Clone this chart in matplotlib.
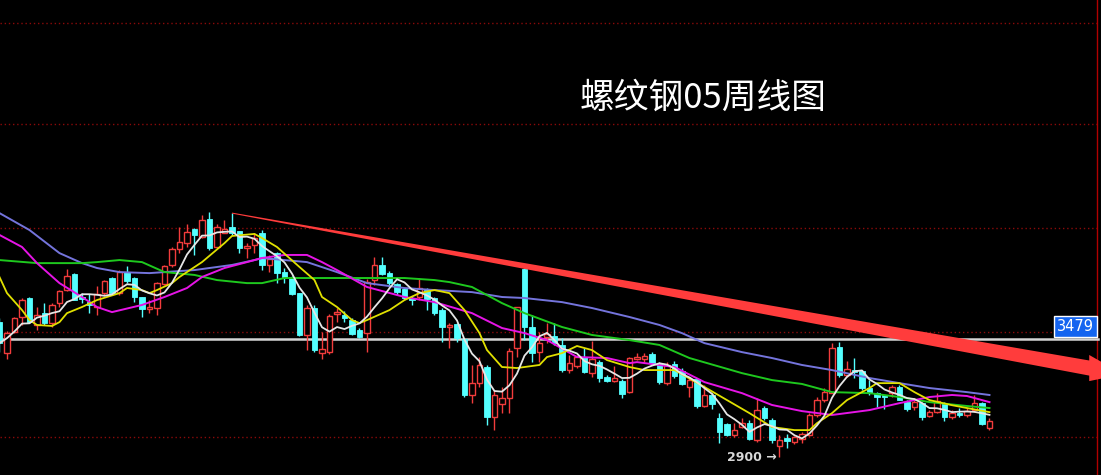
import matplotlib
matplotlib.use("Agg")
import matplotlib.pyplot as plt
import numpy as np
import pandas as pd
from matplotlib.patches import Polygon

plt.rcParams['font.family'] = ['Noto Sans CJK SC', 'DejaVu Sans']

title = "螺纹钢05周线图"

# weekly candles
opens = [3562, 3410, 3513, 3587, 3680, 3548, 3606, 3557, 3655, 3719, 3798,
         3685, 3660, 3636, 3704, 3778, 3704, 3807, 3778, 3685, 3626, 3631,
         3749, 3842, 3920, 3949, 4018, 3979, 4067, 3930, 3998, 4028, 4008,
         3925, 3940, 3998, 3842, 3900, 3807, 3783, 3704, 3499, 3631, 3410,
         3415, 3602, 3597, 3572, 3523, 3508, 3768, 3842, 3802, 3749, 3724,
         3680, 3685, 3719, 3680, 3621, 3538, 3553, 3479, 3205, 3263, 3342,
         3097, 3161, 3190, 3435, 3822, 3538, 3415, 3489, 3494, 3450, 3327,
         3347, 3391, 3312, 3366, 3293, 3273, 3273, 3219, 3381, 3381, 3406,
         3361, 3263, 3357, 3322, 3244, 3283, 3151, 3205, 3092, 3063, 3009,
         3048, 3067, 2984, 3141, 3082, 2955, 2994, 2974, 2989, 3009, 3107,
         3180, 3214, 3440, 3303, 3327, 3322, 3239, 3214, 3205, 3214, 3244,
         3170, 3146, 3165, 3102, 3121, 3165, 3097, 3116, 3107, 3131, 3165, 3043]
highs = [3582, 3518, 3587, 3680, 3685, 3636, 3655, 3655, 3719, 3822, 3802,
         3704, 3700, 3739, 3768, 3783, 3817, 3837, 3783, 3685, 3670, 3758,
         3842, 3930, 4028, 4043, 4023, 4087, 4101, 4043, 4062, 4096, 4008,
         3949, 3998, 4013, 3891, 3905, 3827, 3788, 3704, 3646, 3646, 3513,
         3602, 3631, 3616, 3582, 3533, 3773, 3881, 3881, 3812, 3753, 3729,
         3690, 3778, 3729, 3685, 3631, 3557, 3557, 3484, 3352, 3391, 3352,
         3229, 3244, 3435, 3636, 3827, 3597, 3513, 3557, 3557, 3484, 3401,
         3401, 3435, 3469, 3376, 3303, 3347, 3283, 3391, 3410, 3410, 3415,
         3366, 3366, 3371, 3337, 3293, 3288, 3254, 3214, 3116, 3067, 3067,
         3092, 3082, 3190, 3151, 3092, 3009, 3014, 3004, 3023, 3116, 3195,
         3239, 3459, 3464, 3371, 3386, 3327, 3278, 3219, 3205, 3254, 3254,
         3180, 3190, 3170, 3131, 3214, 3170, 3131, 3141, 3141, 3205, 3170, 3092]
lows = [3415, 3381, 3508, 3548, 3557, 3523, 3548, 3538, 3636, 3714, 3670,
        3655, 3606, 3597, 3695, 3695, 3695, 3753, 3660, 3587, 3606, 3597,
        3744, 3832, 3900, 3930, 3891, 3974, 3915, 3925, 3998, 3989, 3900,
        3876, 3900, 3817, 3807, 3753, 3753, 3695, 3494, 3425, 3415, 3381,
        3406, 3562, 3562, 3499, 3484, 3415, 3744, 3793, 3734, 3695, 3670,
        3646, 3670, 3621, 3597, 3464, 3435, 3464, 3195, 3165, 3244, 3058,
        3033, 3116, 3116, 3391, 3474, 3366, 3366, 3459, 3450, 3317, 3312,
        3337, 3312, 3293, 3268, 3268, 3268, 3190, 3214, 3376, 3366, 3357,
        3259, 3254, 3288, 3254, 3195, 3141, 3146, 3136, 2969, 3004, 2999,
        3043, 2984, 2974, 3082, 2969, 2900, 2945, 2965, 2969, 3004, 3097,
        3170, 3214, 3293, 3293, 3288, 3229, 3205, 3146, 3136, 3195, 3180,
        3126, 3131, 3082, 3097, 3116, 3077, 3087, 3097, 3097, 3121, 3058, 3033]
closes = [3459, 3508, 3582, 3670, 3562, 3597, 3557, 3646, 3714, 3788, 3670,
          3675, 3646, 3700, 3763, 3704, 3807, 3763, 3685, 3626, 3636, 3753,
          3837, 3920, 3954, 4003, 3989, 4062, 3925, 4028, 4018, 3998, 3925,
          3935, 3974, 3842, 3871, 3802, 3783, 3700, 3499, 3631, 3425, 3430,
          3592, 3611, 3582, 3504, 3489, 3758, 3842, 3798, 3753, 3709, 3680,
          3670, 3729, 3675, 3606, 3538, 3548, 3484, 3205, 3263, 3352, 3097,
          3205, 3190, 3420, 3636, 3538, 3410, 3459, 3504, 3459, 3327, 3361,
          3391, 3317, 3381, 3288, 3273, 3288, 3210, 3386, 3391, 3396, 3361,
          3268, 3352, 3298, 3259, 3278, 3151, 3205, 3161, 3023, 3009, 3033,
          3067, 2989, 3131, 3092, 2984, 2984, 2979, 2999, 3014, 3107, 3180,
          3219, 3435, 3303, 3332, 3317, 3239, 3214, 3195, 3195, 3244, 3180,
          3136, 3170, 3097, 3121, 3175, 3097, 3116, 3107, 3126, 3165, 3063, 3077]

# moving averages read at sample weeks (week index, price)
ma10_w = [0, 1, 3, 4, 5, 7, 8, 9, 11, 13, 16, 17, 19, 20, 21, 23, 24, 27, 30, 31,
          34, 35, 37, 40, 42, 43, 45, 47, 48, 49, 52, 54, 56, 58, 60, 62, 64, 65,
          67, 69, 72, 73, 75, 77, 79, 81, 84, 86, 90, 94, 97, 100, 103, 106, 108,
          109, 111, 113, 116, 117, 120, 122, 124, 127, 129, 132]
ma10_v = [3783, 3704, 3621, 3572, 3548, 3543, 3562, 3606, 3636, 3670, 3704, 3729,
          3719, 3704, 3719, 3753, 3783, 3856, 3949, 3984, 3994, 3974, 3930, 3832,
          3768, 3685, 3636, 3572, 3557, 3572, 3621, 3670, 3704, 3719, 3704, 3621,
          3508, 3425, 3342, 3337, 3352, 3391, 3410, 3445, 3425, 3376, 3342, 3327,
          3327, 3244, 3180, 3116, 3048, 3033, 3033, 3067, 3116, 3180, 3239, 3263,
          3263, 3219, 3180, 3155, 3141, 3121]
ma20_w = [0, 3, 5, 8, 11, 13, 15, 19, 22, 25, 27, 30, 33, 35, 38, 41, 43, 45, 49,
          54, 58, 63, 67, 70, 73, 77, 81, 84, 85, 90, 94, 99, 103, 107, 111, 116,
          120, 124, 127, 129, 132]
ma20_v = [3989, 3930, 3851, 3753, 3685, 3636, 3611, 3646, 3685, 3729, 3783, 3827,
          3856, 3876, 3891, 3891, 3856, 3817, 3734, 3685, 3660, 3606, 3533, 3508,
          3474, 3391, 3386, 3361, 3366, 3342, 3268, 3214, 3156, 3126, 3107, 3131,
          3165, 3195, 3205, 3200, 3170]
ma40_w = [0, 5, 11, 13, 16, 19, 22, 26, 29, 33, 35, 38, 45, 54, 58, 60, 63, 67,
          70, 75, 79, 84, 88, 92, 99, 103, 107, 111, 116, 120, 124, 129, 132]
ma40_v = [3866, 3851, 3851, 3856, 3866, 3856, 3807, 3793, 3768, 3753, 3753, 3778,
          3778, 3778, 3768, 3758, 3734, 3655, 3606, 3538, 3499, 3474, 3450, 3386,
          3312, 3278, 3259, 3219, 3214, 3195, 3170, 3151, 3141]
ma60_w = [0, 4, 8, 11, 13, 16, 20, 22, 26, 31, 34, 35, 38, 41, 45, 49, 54, 58, 63,
          67, 70, 75, 79, 84, 88, 91, 94, 99, 103, 107, 111, 116, 120, 124, 129, 132]
ma60_v = [4096, 4013, 3900, 3851, 3827, 3807, 3802, 3807, 3817, 3842, 3866, 3876,
          3866, 3856, 3807, 3753, 3729, 3719, 3709, 3685, 3680, 3660, 3631, 3587,
          3548, 3508, 3459, 3415, 3386, 3352, 3327, 3288, 3263, 3239, 3219, 3205]

last_price = 3479
low_week = 104
low_price = 2900
grid_levels = [3000, 3512, 4021, 4531, 5029]
trend_start = (31, 4096)
trend_end = (145.3, 3337)

weeks = np.arange(len(closes))
o = np.array(opens, float)
c = np.array(closes, float)
h = np.array(highs, float)
l = np.array(lows, float)
ma5 = pd.Series(c).rolling(5, min_periods=1).mean()

RED = '#f23c3c'
CYAN = '#54ffff'

fig = plt.figure(figsize=(11.01, 4.75), dpi=100, facecolor='black')
ax = fig.add_axes([0, 0, 1, 1], facecolor='black')
ax.set_xlim(0.067, 146.87)
ax.set_ylim(2813, 5140)
ax.axis('off')

right = 1098 / 1101
for g in grid_levels:
    ax.axhline(g, xmax=right, color='#8a0a0a', lw=1, ls=(0, (1, 2)), zorder=0)
ax.axvline(right * 146.8 + 0.067 * (1 - right), color='#b00000', lw=1, zorder=0)
ax.axhline(last_price, xmax=right, color='#d4d4d4', lw=1.8, zorder=1)

up = c >= o
cols = np.where(up, RED, CYAN)
ax.vlines(weeks, l, h, colors=cols, lw=1, zorder=2)
body = np.maximum(np.abs(c - o), 4)
bot = np.minimum(o, c)
ax.bar(weeks[up], body[up], bottom=bot[up], width=0.68, facecolor='black',
       edgecolor=RED, lw=1, zorder=3)
ax.bar(weeks[~up], body[~up], bottom=bot[~up], width=0.68, facecolor=CYAN,
       edgecolor=CYAN, lw=0.6, zorder=3)

ax.plot(ma60_w, ma60_v, color='#7474dc', lw=1.4, zorder=4)
ax.plot(ma40_w, ma40_v, color='#1ec81e', lw=1.4, zorder=4)
ax.plot(ma20_w, ma20_v, color='#e614e6', lw=1.4, zorder=4)
ax.plot(ma10_w, ma10_v, color='#e0e000', lw=1.3, zorder=4)
ax.plot(weeks, ma5, color='#e6e6e6', lw=1.3, zorder=5)

# trend arrow, thin at the top and widening to the right
x0, y0 = trend_start
x1, y1 = trend_end
slope = (y1 - y0) / (x1 - x0)
tip = (x1 + 4.5, y1 + slope * 4.5)
arrow = Polygon([(x0, y0 + 2.5), (x1, y1 + 37), (x1, y1 + 64), tip,
                 (x1, y1 - 64), (x1, y1 - 37), (x0, y0 - 2.5)],
                closed=True, facecolor='#ff3c3c', edgecolor='none', zorder=6)
ax.add_patch(arrow)

ax.text(580 / 1101, 1 - 98 / 475, title, transform=ax.transAxes, color='white',
        fontsize=25, ha='left', va='center', zorder=7)

ax.annotate('%d' % last_price, xy=(right, last_price),
            xycoords=('axes fraction', 'data'), xytext=(-4, 5),
            textcoords='offset pixels', ha='right', va='bottom', color='white',
            fontsize=10.5, family=['DejaVu Sans'],
            bbox=dict(boxstyle='square,pad=0.18', fc='#1464f0', ec='white', lw=1),
            zorder=8)

ax.text(low_week - 0.3, low_price, '%d \u2192' % low_price, color='#d8d8d8',
        fontsize=9, fontweight='bold', ha='right', va='center',
        family=['DejaVu Sans'], zorder=7)

fig.savefig('out.png', dpi=100, facecolor='black')
